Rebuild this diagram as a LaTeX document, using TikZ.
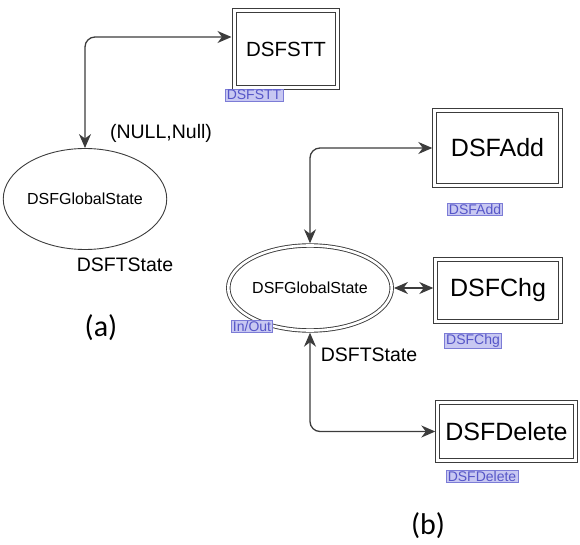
\documentclass[tikz,border=0pt]{standalone}
\usepackage{fontspec}
\setmainfont{Liberation Sans}
\newfontfamily\capfont{Carlito}
\usetikzlibrary{shapes.geometric,arrows.meta,positioning}

\definecolor{tagfill}{HTML}{C8C8F2}
\definecolor{tagline}{HTML}{7C7CD6}
\definecolor{tagtext}{HTML}{5656C8}
\definecolor{wire}{HTML}{3C3C3C}

\begin{document}
\begin{tikzpicture}[x=1pt, y=-1pt, >={Stealth[length=14pt, width=12pt, inset=4.5pt]},
    trans/.style={rectangle, draw=wire, double=white, double distance=2.6pt, line width=0.9pt,
      outer sep=2.2pt, inner sep=0pt, font=\fontsize{25}{25}\selectfont},
    place/.style={ellipse, draw=wire, line width=0.9pt, inner sep=0pt,
      font=\fontsize{16}{16}\selectfont},
    tag/.style={draw=tagline, fill=tagfill, text=tagtext, inner xsep=1.5pt, inner ysep=0.8pt,
      font=\fontsize{14}{14}\selectfont},
    lbl/.style={font=\fontsize{19.5}{19.5}\selectfont},
    arc/.style={<->, draw=wire, line width=1.3pt, rounded corners=10pt}]
  \useasboundingbox (0,0) rectangle (580,545);

  % (a)
  \node[place, minimum width=143pt, minimum height=101pt] (gsa) at (85,199) {DSFGlobalState};
  \node[trans, minimum width=103pt, minimum height=77pt, font=\fontsize{20.5}{20.5}\selectfont] (stt) at (286,49) {DSFSTT};
  \node[tag] (sttTag) at (254,95) {DSFSTT};
  \coordinate (sttIn) at (231.5,37);
  \path[arc] (gsa.north) |- (sttIn);
  \node[lbl] (nullLbl) at (161,133) {(NULL,Null)};
  \node[lbl] (stateA) at (125,265) {DSFTState};
  \node[font=\capfont\fontsize{30}{30}\selectfont] (capA) at (101,328) {(a)};

  % (b)
  \node[place, double=white, double distance=2.6pt, outer sep=2.2pt,
    minimum width=145pt, minimum height=85pt] (gsb) at (310,288) {DSFGlobalState};
  \node[tag] (ioTag) at (252,326) {In/Out};
  \node[trans, minimum width=126pt, minimum height=75pt] (add) at (497.5,148) {DSFAdd};
  \node[tag] (addTag) at (475,209) {DSFAdd};
  \node[trans, minimum width=125pt, minimum height=62pt] (chg) at (498,290.5) {DSFChg};
  \node[tag] (chgTag) at (473,341) {DSFChg};
  \node[trans, minimum width=138pt, minimum height=58pt] (del) at (506.5,431.5) {DSFDelete};
  \node[tag] (delTag) at (482,476) {DSFDelete};

  \path[arc] (gsb.north) |- (add.west);
  \path[arc] (gsb.east) -- (gsb.east -| chg.west);
  \path[arc] (gsb.south) |- (del.west);
  \node[lbl] (stateB) at (369,355) {DSFTState};
  \node[font=\capfont\fontsize{30}{30}\selectfont] (capB) at (428,526) {(b)};
\end{tikzpicture}
\end{document}
